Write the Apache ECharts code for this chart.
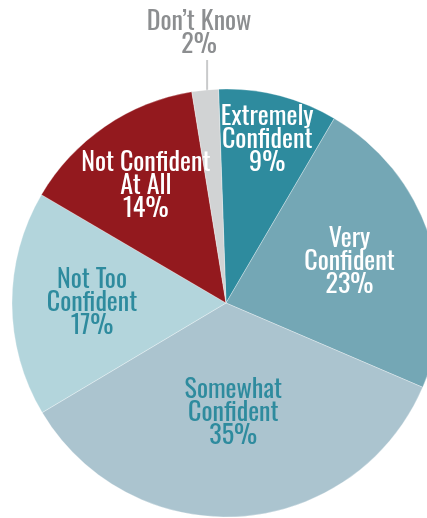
<!DOCTYPE html>
<html>
<head>
<meta charset="utf-8">
<style>
  html, body { margin: 0; padding: 0; background: #fff; }
  #main { width: 427px; height: 518px; }
</style>
<script src="https://cdn.jsdelivr.net/npm/echarts@6/dist/echarts.min.js"></script>
</head>
<body>
<div id="main"></div>
<script>
// 数据
var categories = ['Extremely\nConfident', 'Very\nConfident', 'Somewhat\nConfident', 'Not Too\nConfident', 'Not Confident\nAt All', 'Don\u2019t Know'];
var values = [9, 23, 35, 17, 14, 2];

// 样式
var sliceColors = ['#2e8b9e', '#74a7b5', '#abc4cf', '#b3d5dc', '#93191e', '#d1d3d4'];
var labelColors = ['#fff', '#fff', '#2e8b9e', '#2e8b9e', '#fff', '#8c8e90'];
var labelDist = [168, 130, 110, 134, 142, null]; // label distance from centre, px

var cx = 226, cy = 303, R = 214, startAngle = 92;
var total = values.reduce(function(a, b) { return a + b; }, 0);

// mid angle of each slice (deg, ccw from +x), clockwise layout
function midAngle(i) {
  var before = 0;
  for (var k = 0; k < i; k++) before += values[k];
  return startAngle - (before + values[i] / 2) / total * 360;
}

var font = "'Oswald', 'Liberation Sans Narrow', 'DejaVu Sans Condensed', 'Roboto Condensed', sans-serif";

var chart = echarts.init(document.getElementById('main'));

var data = values.map(function(v, i) {
  var item = {
    value: v,
    name: categories[i],
    itemStyle: { color: sliceColors[i] },
    label: { color: labelColors[i] }
  };
  if (i === 5) {
    item.label.position = 'outside';
    item.labelLine = { show: true, length: 30, length2: 0, smooth: false, lineStyle: { color: '#c9cacb', width: 2 } };
  }
  return item;
});

var option = {
  backgroundColor: '#fff',
  animation: false,
  series: [{
    type: 'pie',
    center: [cx, cy],
    radius: [0, R],
    startAngle: startAngle,
    clockwise: true,
    avoidLabelOverlap: false,
    itemStyle: { borderColor: 'rgba(255,255,255,0.5)', borderWidth: 0.6 },
    label: {
      show: true,
      position: 'inside',
      formatter: '{b}\n{c}%',
      fontFamily: font,
      fontSize: 26,
      fontWeight: 'normal',
      lineHeight: 23,
      align: 'center'
    },
    labelLine: { show: false },
    labelLayout: function(p) {
      var i = p.dataIndex;
      var a = midAngle(i) * Math.PI / 180;
      if (labelDist[i]) {
        return {
          x: cx + labelDist[i] * Math.cos(a),
          y: cy - labelDist[i] * Math.sin(a),
          align: 'center',
          verticalAlign: 'middle'
        };
      }
      // Don't Know: straight leader line up from the rim
      var ex = cx + R * Math.cos(a) + 2, ey = cy - R * Math.sin(a) + 2;
      var top = ey - 32;
      return {
        x: ex - 8,
        y: top - 3,
        align: 'center',
        verticalAlign: 'bottom',
        labelLinePoints: [[ex, ey], [ex, top], [ex, top]]
      };
    },
    data: data
  }]
};

option && chart.setOption(option);
</script>
</body>
</html>
